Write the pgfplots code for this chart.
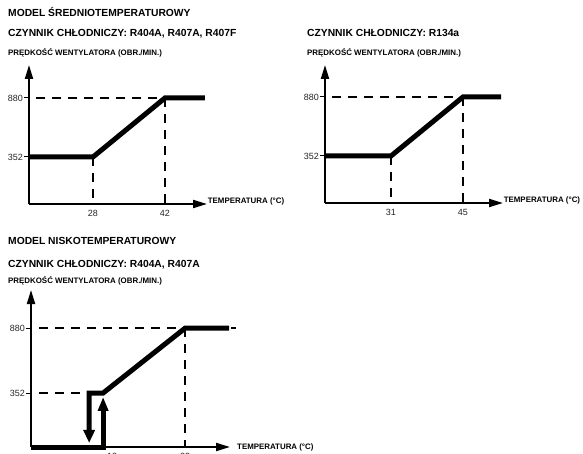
\documentclass[border=0pt]{standalone}
\usepackage{fontspec}
\setmainfont{Liberation Sans}
\usepackage{pgfplots}
\pgfplotsset{compat=1.18}
\usetikzlibrary{arrows.meta}
\pgfplotsset{
  schem/.style={
    scale only axis, axis lines=left, enlargelimits=false, clip=false,
    axis line style={line width=2pt, -{Triangle[length=14pt,width=8pt]}},
    tick align=outside, major tick length=5pt,
    ytick style={line width=1pt, black},
    xtick style={draw=none},
    /pgf/number format/assume math mode=true,
    tick label style={font=\fontsize{9}{10}\selectfont, text=black!85},
    ytick={352,880}, yticklabels={352,880},
    yticklabel style={inner sep=1pt},
    xticklabel style={inner sep=1pt},
  },
  dsh/.style={line width=1.8pt, dash pattern=on 9pt off 7pt, black},
  thk/.style={line width=5pt, black, line join=miter, line cap=butt},
}
\newcommand{\titlefont}{\fontsize{10.3}{12}\selectfont\bfseries}
\newcommand{\smallfont}{\fontsize{7.9}{9}\selectfont\bfseries}
\begin{document}
\begin{tikzpicture}[x=1pt,y=1pt]
\useasboundingbox (0,0) rectangle (583,453);
% titles
\node[anchor=base west, inner sep=0] at (8,436) {\titlefont MODEL ŚREDNIOTEMPERATUROWY};
\node[anchor=base west, inner sep=0] at (8,416) {\titlefont CZYNNIK CHŁODNICZY: R404A, R407A, R407F};
\node[anchor=base west, inner sep=0] at (8,397.5) {\smallfont PRĘDKOŚĆ WENTYLATORA (OBR./MIN.)};
\node[anchor=base west, inner sep=0] at (307,416.5) {\titlefont CZYNNIK CHŁODNICZY: R134a};
\node[anchor=base west, inner sep=0] at (307,397) {\smallfont PRĘDKOŚĆ WENTYLATORA (OBR./MIN.)};
\node[anchor=base west, inner sep=0] at (8,209) {\titlefont MODEL NISKOTEMPERATUROWY};
\node[anchor=base west, inner sep=0] at (8,186) {\titlefont CZYNNIK CHŁODNICZY: R404A, R407A};
\node[anchor=base west, inner sep=0] at (8,169.5) {\smallfont PRĘDKOŚĆ WENTYLATORA (OBR./MIN.)};

% top-left
\begin{axis}[schem, at={(29pt,249pt)}, anchor=south west, width=178pt, height=139pt,
  xmin=15.56, xmax=50.17, ymin=-68.6, ymax=1175, xtick={28,42}, xticklabels={28,42}]
\addplot[dsh] coordinates {(16.9,880) (50.75,880)};
\addplot[dsh] coordinates {(42,880) (42,-68.6)};
\addplot[dsh] coordinates {(28,352) (28,-68.6)};
\addplot[thk] coordinates {(15.56,352) (28,352) (42,880) (49.78,880)};
\node[anchor=west, inner sep=0] at (axis cs:50.3,-50) {\smallfont TEMPERATURA (°C)};
\end{axis}

% top-right
\begin{axis}[schem, at={(325pt,250pt)}, anchor=south west, width=178pt, height=138pt,
  xmin=18.17, xmax=52.78, ymin=-68.6, ymax=1166, xtick={31,45}, xticklabels={31,45}]
\addplot[dsh] coordinates {(19.5,880) (53.55,880)};
\addplot[dsh] coordinates {(45,880) (45,-68.6)};
\addplot[dsh] coordinates {(31,352) (31,-68.6)};
\addplot[thk] coordinates {(18.17,352) (31,352) (45,880) (52.4,880)};
\node[anchor=west, inner sep=0] at (axis cs:52.9,-50) {\smallfont TEMPERATURA (°C)};
\end{axis}

% bottom
\begin{axis}[schem, at={(31pt,6pt)}, anchor=south west, width=199pt, height=157pt,
  xmin=-5.56, xmax=42.9, ymin=-86.6, ymax=1189, xtick={12,32}, xticklabels={\hspace*{18pt}12,32}]
\addplot[dsh] coordinates {(-3.6,880) (44.3,880)};
\addplot[dsh] coordinates {(-3.6,352) (8.6,352)};
\addplot[dsh] coordinates {(32,880) (32,-86.6)};
\addplot[thk, {Triangle[length=13pt,width=11pt]}-] coordinates {(8.6,-54) (8.6,352) (12,352) (32,880) (42.7,880)};
\addplot[thk, -{Triangle[length=14pt,width=10pt]}] coordinates {(-5.56,-86.6) (12,-86.6) (12,320)};
\node[anchor=west, inner sep=0] at (axis cs:44.6,-86.6) {\smallfont TEMPERATURA (°C)};
\end{axis}
\end{tikzpicture}
\end{document}
